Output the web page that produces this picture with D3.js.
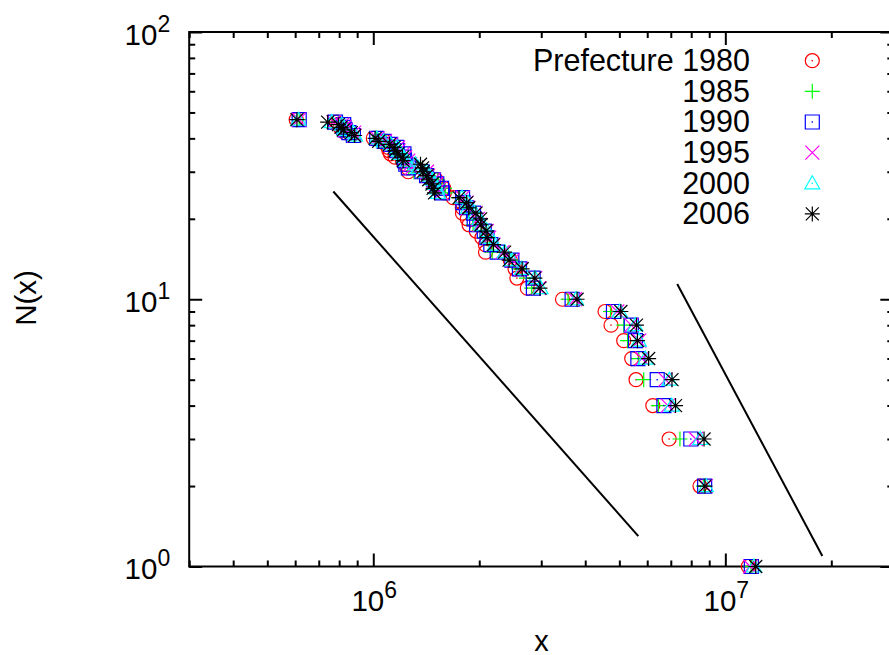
<!DOCTYPE html>
<html>
<head>
<meta charset="utf-8">
<script src="https://cdn.jsdelivr.net/npm/d3@7"></script>
<style>
  body { margin: 0; background: #fff; }
  text { font-family: "Liberation Sans", Arial, sans-serif; fill: #000; }
</style>
</head>
<body>
<svg id="chart" width="889" height="655"></svg>
<script>
// population of the 47 prefectures (thousands), Hokkaido ... Okinawa
var prefectures = ["Hokkaido","Aomori","Iwate","Miyagi","Akita","Yamagata","Fukushima","Ibaraki","Tochigi","Gunma",
  "Saitama","Chiba","Tokyo","Kanagawa","Niigata","Toyama","Ishikawa","Fukui","Yamanashi","Nagano",
  "Gifu","Shizuoka","Aichi","Mie","Shiga","Kyoto","Osaka","Hyogo","Nara","Wakayama",
  "Tottori","Shimane","Okayama","Hiroshima","Yamaguchi","Tokushima","Kagawa","Ehime","Kochi","Fukuoka",
  "Saga","Nagasaki","Kumamoto","Oita","Miyazaki","Kagoshima","Okinawa"];

var pop1980 = [5576,1524,1422,2082,1257,1252,2035,2558,1792,1849,5420,4735,11618,6924,2451,1103,1119,794,804,2084,
  1960,3447,6222,1687,1080,2527,8473,5145,1209,1087,604,785,1871,2739,1587,825,1000,1507,831,4553,
  866,1591,1790,1229,1152,1785,1107];
var pop1985 = [5679,1524,1434,2176,1254,1262,2080,2725,1866,1921,5864,5148,11829,7432,2478,1118,1152,818,833,2137,
  2029,3575,6455,1747,1156,2587,8668,5278,1305,1087,616,795,1917,2819,1602,835,1023,1530,840,4719,
  880,1594,1838,1250,1176,1820,1179];
var pop1990 = [5644,1483,1417,2249,1227,1258,2104,2845,1935,1966,6405,5555,11856,7980,2475,1120,1165,824,853,2157,
  2067,3671,6691,1793,1222,2602,8735,5405,1375,1074,616,781,1926,2850,1573,832,1023,1515,825,4811,
  878,1563,1840,1237,1169,1798,1222];
var pop1995 = [5692,1482,1420,2329,1214,1257,2134,2956,1984,2004,6759,5798,11774,8246,2488,1123,1180,827,882,2194,
  2100,3738,6868,1841,1287,2630,8797,5402,1431,1080,615,771,1951,2882,1556,832,1027,1507,817,4933,
  884,1545,1860,1231,1176,1794,1273];
var pop2000 = [5683,1476,1416,2365,1189,1244,2127,2986,2005,2025,6938,5926,12064,8490,2476,1121,1181,829,888,2215,
  2108,3767,7043,1857,1343,2644,8805,5551,1443,1070,613,762,1951,2879,1528,824,1023,1493,814,5016,
  877,1517,1859,1221,1170,1786,1318];
var pop2006 = [5628,1437,1385,2360,1146,1216,2091,2975,2017,2024,7054,6056,12200,8700,2431,1112,1174,822,885,2196,
  2107,3792,7220,1867,1380,2648,8750,5591,1421,1036,607,742,1957,2877,1493,810,1012,1468,796,5050,
  866,1479,1842,1210,1153,1753,1362];

var years = ["1980","1985","1990","1995","2000","2006"];
var legendLabels = ["Prefecture 1980","1985","1990","1995","2000","2006"];
var colors = ["#ff0000","#00ff00","#0000ff","#ff00ff","#00ffff","#000000"];
var markers = ["circle","plus","square","cross","triangle","star"];
var allPops = [pop1980,pop1985,pop1990,pop1995,pop2000,pop2006];

// guide lines (power laws), two end points each
var line1X = [7.7e5, 5.66e6], line1Y = [25.3, 1.30];
var line2X = [7.30e6, 1.886e7], line2Y = [11.4, 1.095];

var xMajor = [1e6, 1e7];
var yMajor = [1, 10, 100];

var svg = d3.select("#chart");

var x = d3.scaleLog().domain([3e5, 3e7]).range([189.2, 893.3]);
var y = d3.scaleLog().domain([1, 100]).range([566.5, 32]);

// rank-size: N(x) = number of prefectures with population >= x
var series = allPops.map(function(p, i){
  var sorted = p.slice().sort(function(a,b){ return b - a; });
  return sorted.map(function(v, r){ return {x: v*1000, n: r+1, s: i}; });
});

// ---- axes / border
var xMinor = x.ticks().filter(function(t){ return xMajor.indexOf(t) < 0; });
var yMinor = y.ticks().filter(function(t){ return yMajor.indexOf(t) < 0; });

function tickAxis(axis, vals, len){
  return axis.tickValues(vals).tickSizeInner(-len).tickSizeOuter(0).tickFormat("");
}
var axes = [
  [d3.axisBottom, "translate(0," + y(1) + ")", x, xMajor, xMinor],
  [d3.axisTop, "translate(0," + y(100) + ")", x, xMajor, xMinor],
  [d3.axisLeft, "translate(" + x(3e5) + ",0)", y, yMajor, yMinor],
  [d3.axisRight, "translate(" + x(3e7) + ",0)", y, yMajor, yMinor]
];
axes.forEach(function(a){
  [[a[3], 13], [a[4], 6]].forEach(function(t){
    var g = svg.append("g").attr("transform", a[1])
      .call(tickAxis(a[0](a[2]), t[0], t[1]));
    g.select(".domain").remove();
    g.selectAll(".tick line").attr("stroke", "#000").attr("stroke-width", 2);
  });
});

svg.append("rect")
  .attr("x", x(3e5)).attr("y", y(100))
  .attr("width", x(3e7) - x(3e5)).attr("height", y(1) - y(100))
  .attr("fill", "none").attr("stroke", "#000").attr("stroke-width", 2);

// tick labels 10^n
function powLabel(sel, v){
  var e = Math.round(Math.log10(v));
  sel.append("tspan").text("10");
  sel.append("tspan").attr("font-size", 23).attr("dy", -13).text(e);
}
xMajor.forEach(function(v){
  var t = svg.append("text").attr("x", x(v) + 1).attr("y", y(1) + 44)
    .attr("text-anchor", "middle").attr("font-size", 29.5);
  powLabel(t, v);
});
yMajor.forEach(function(v){
  var t = svg.append("text").attr("x", x(3e5) - 19).attr("y", y(v) + 12.5)
    .attr("text-anchor", "end").attr("font-size", 29.5);
  powLabel(t, v);
});

svg.append("text").attr("x", 541.5).attr("y", 651)
  .attr("text-anchor", "middle").attr("font-size", 29).text("x");
svg.append("text").attr("transform", "translate(36,298) rotate(-90)")
  .attr("text-anchor", "middle").attr("font-size", 29.5).text("N(x)");

// ---- guide lines
[[line1X, line1Y], [line2X, line2Y]].forEach(function(l){
  svg.append("path")
    .datum(d3.zip(l[0], l[1]))
    .attr("d", d3.line().x(function(d){ return x(d[0]); }).y(function(d){ return y(d[1]); }))
    .attr("fill", "none").attr("stroke", "#000").attr("stroke-width", 2);
});

// ---- markers
var markerPath = {
  circle: "M7,0A7,7 0 1,1 -7,0A7,7 0 1,1 7,0Z",
  plus: "M-7.5,0H7.5M0,-7.5V7.5",
  square: "M-7,-7H7V7H-7Z",
  cross: "M-7,-7L7,7M-7,7L7,-7",
  triangle: "M0,-7.5L7.5,5.5H-7.5Z",
  star: "M-7.5,0H7.5M0,-7.5V7.5M-6.5,-6.5L6.5,6.5M-6.5,6.5L6.5,-6.5"
};
var hasDot = {circle: true, square: true, triangle: true};

function drawMarker(g, i){
  g.append("path").attr("d", markerPath[markers[i]])
    .attr("fill", "none").attr("stroke", colors[i]).attr("stroke-width", 1.2);
  if (hasDot[markers[i]]) {
    g.append("rect").attr("x", -0.7).attr("y", -0.7).attr("width", 1.4).attr("height", 1.4)
      .attr("fill", colors[i]);
  }
}

series.forEach(function(s, i){
  svg.append("g").selectAll("g").data(s).enter().append("g")
    .attr("transform", function(d){ return "translate(" + x(d.x) + "," + y(d.n) + ")"; })
    .each(function(){ drawMarker(d3.select(this), i); });
});

// ---- legend
legendLabels.forEach(function(lab, i){
  var yy = 60.7 + i * 30.65;
  svg.append("text").attr("x", 750).attr("y", yy + 10.2)
    .attr("text-anchor", "end").attr("font-size", 30.5).text(lab);
  drawMarker(svg.append("g").attr("transform", "translate(812.3," + yy + ")"), i);
});
</script>
</body>
</html>
